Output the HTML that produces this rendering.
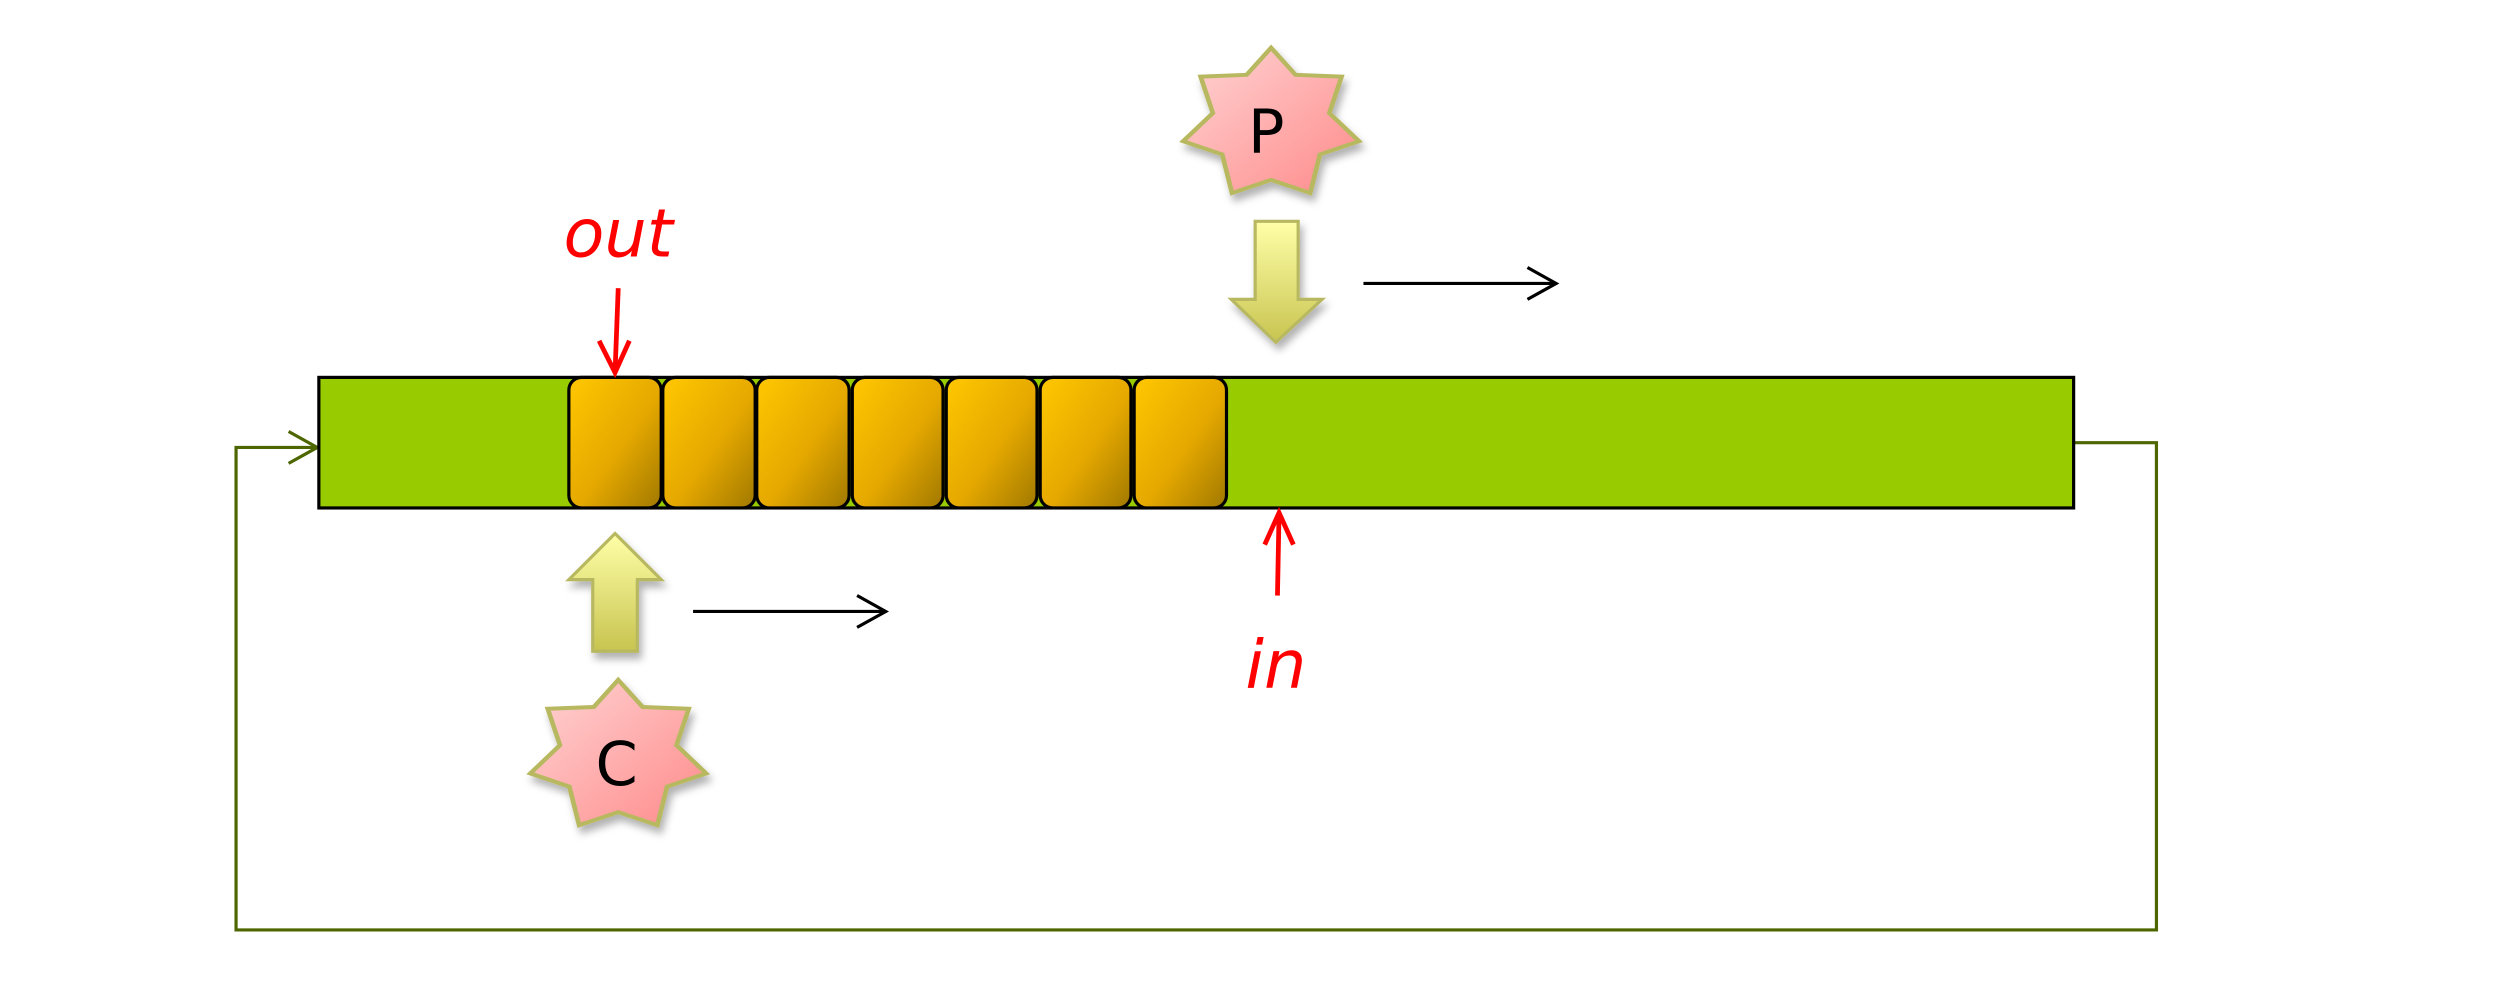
<!DOCTYPE html>
<html><head><meta charset="utf-8"><style>html,body{margin:0;padding:0;background:#fff}svg{display:block}</style></head>
<body>
<svg width="2496" height="1000" viewBox="0 0 1567 628" xmlns="http://www.w3.org/2000/svg">
<defs>
<linearGradient id="cell" x1="0" y1="0" x2="1" y2="1"><stop offset="0" stop-color="#ffc800"/><stop offset="0.55" stop-color="#e5a800"/><stop offset="1" stop-color="#a07800"/></linearGradient>
<linearGradient id="star" x1="0" y1="0" x2="1" y2="1"><stop offset="0" stop-color="#ffd4d4"/><stop offset="1" stop-color="#ff8a8a"/></linearGradient>
<linearGradient id="arr" x1="0" y1="0" x2="0" y2="1"><stop offset="0" stop-color="#ffffa8"/><stop offset="1" stop-color="#c8c450"/></linearGradient>
<linearGradient id="arrU" x1="0" y1="1" x2="0" y2="0"><stop offset="0" stop-color="#c8c450"/><stop offset="1" stop-color="#ffffa8"/></linearGradient>
<filter id="sh" x="-20%" y="-20%" width="150%" height="150%"><feDropShadow dx="2" dy="4" stdDeviation="2.5" flood-color="#000" flood-opacity="0.3"/></filter>
</defs>
<polyline points="1302,278 1354,278 1354,584 148,584 148,281 199,281" fill="none" stroke="#4d6600" stroke-width="2"/>
<polyline points="181,271 199,281 181,291" fill="none" stroke="#4d6600" stroke-width="2"/>
<rect x="200" y="237" width="1102" height="82" fill="#99cc00" stroke="#000" stroke-width="2"/>
<g fill="url(#cell)" stroke="#000" stroke-width="2">
<rect x="357" y="237" width="58" height="82" rx="8"/>
<rect x="416" y="237" width="58" height="82" rx="8"/>
<rect x="475" y="237" width="58" height="82" rx="8"/>
<rect x="535" y="237" width="57" height="82" rx="8"/>
<rect x="594" y="237" width="57" height="82" rx="8"/>
<rect x="653" y="237" width="57" height="82" rx="8"/>
<rect x="712" y="237" width="58" height="82" rx="8"/>
</g>
<g filter="url(#sh)">
<polygon transform="translate(798,78) scale(1.18,1)" points="0,-48 13,-31 37.5,-29.9 31,-7 46.8,10.7 26,19 20.8,43.2 0,35 -20.8,43.2 -26,19 -46.8,10.7 -31,-7 -37.5,-29.9 -13,-31" fill="url(#star)" stroke="#b8b860" stroke-width="2.5"/>
</g>
<text x="795" y="96" font-family="'DejaVu Sans','Liberation Sans',sans-serif" font-size="38" text-anchor="middle" fill="#000">P</text>
<g filter="url(#sh)">
<polygon transform="translate(388,475) scale(1.18,1)" points="0,-48 13,-31 37.5,-29.9 31,-7 46.8,10.7 26,19 20.8,43.2 0,35 -20.8,43.2 -26,19 -46.8,10.7 -31,-7 -37.5,-29.9 -13,-31" fill="url(#star)" stroke="#b8b860" stroke-width="2.5"/>
</g>
<text x="387" y="493" font-family="'DejaVu Sans','Liberation Sans',sans-serif" font-size="38" text-anchor="middle" fill="#000">C</text>
<polygon filter="url(#sh)" points="788,139 815,139 815,188 830,188 801,215 773,188 788,188" fill="url(#arr)" stroke="#b8b860" stroke-width="2"/>
<polygon filter="url(#sh)" points="386,335 415,364 400,364 400,409 372,409 372,364 357,364" fill="url(#arrU)" stroke="#b8b860" stroke-width="2"/>
<g fill="none" stroke="#000" stroke-width="2">
<line x1="856" y1="178" x2="977" y2="178"/><polyline points="959,168 977,178 959,188"/>
<line x1="435" y1="384" x2="556" y2="384"/><polyline points="538,374 556,384 538,394"/>
</g>
<g fill="none" stroke="#ff0000" stroke-width="3">
<line x1="388" y1="181" x2="386" y2="234"/><polyline points="376,214 386,234 395,214"/>
<line x1="802" y1="374" x2="803" y2="322"/><polyline points="794,342 803,322 812,342"/>
</g>
<text x="388" y="161" font-family="'DejaVu Sans','Liberation Sans',sans-serif" font-style="italic" font-size="42" text-anchor="middle" fill="#ff0000">out</text>
<text x="801" y="432" font-family="'DejaVu Sans','Liberation Sans',sans-serif" font-style="italic" font-size="42" text-anchor="middle" fill="#ff0000">in</text>
</svg>
</body></html>
